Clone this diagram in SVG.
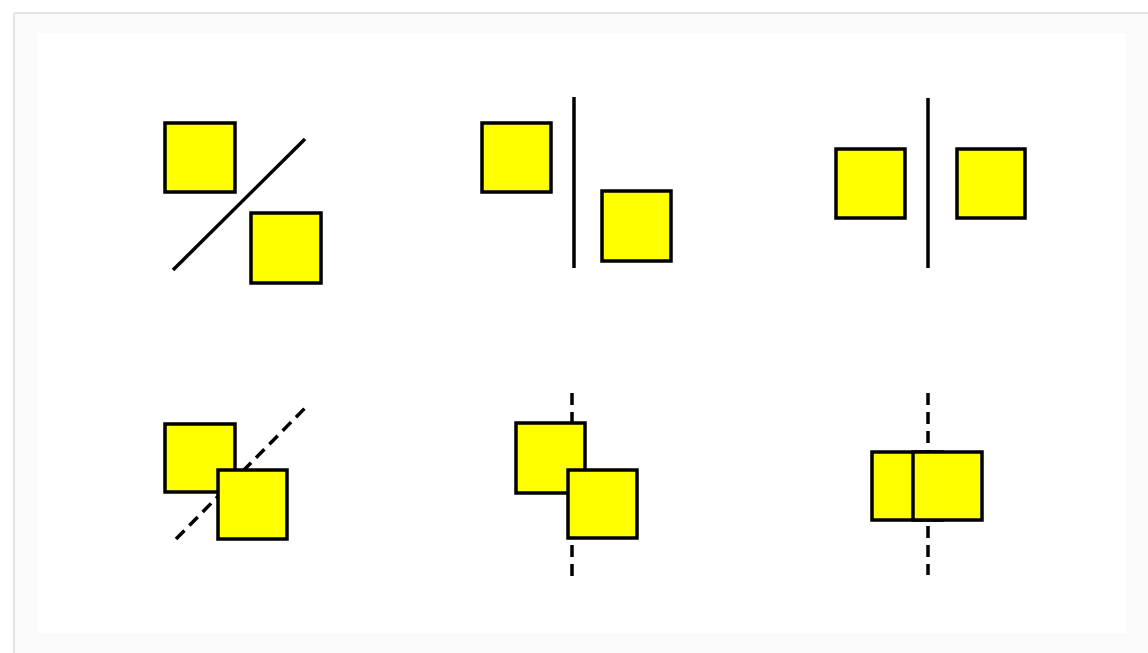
<svg xmlns="http://www.w3.org/2000/svg" width="1148" height="653" viewBox="0 0 1148 653">
<style>
.sq{fill:#ffff00;stroke:#000;stroke-width:3.5}
.ln{stroke:#000;stroke-width:3.5;fill:none}
.dash{stroke-dasharray:12 7}
</style>
<rect x="0" y="0" width="1148" height="653" fill="#ffffff"/>
<rect x="14" y="13" width="1134" height="640" fill="#fafafa"/>
<line x1="14" y1="13" x2="1148" y2="13" stroke="#e4e4e4" stroke-width="2"/>
<line x1="14" y1="13" x2="14" y2="653" stroke="#e4e4e4" stroke-width="2"/>
<rect x="38" y="33" width="1088" height="600" fill="#ffffff"/>
<g id="connectors">
<line class="ln" x1="173" y1="270" x2="305" y2="139"/>
<line class="ln" x1="574" y1="97" x2="574" y2="268"/>
<line class="ln" x1="928" y1="98" x2="928" y2="268"/>
<line class="ln dash" x1="176" y1="539" x2="305" y2="408"/>
<line class="ln dash" x1="572" y1="393" x2="572" y2="577"/>
<line class="ln dash" x1="928" y1="393" x2="928" y2="575"/>
</g>
<g id="p1a"><rect class="sq" x="165" y="123" width="70" height="69"/></g>
<g id="p1b"><rect class="sq" x="251" y="213" width="70" height="70"/></g>
<g id="p2a"><rect class="sq" x="482" y="123" width="69" height="69"/></g>
<g id="p2b"><rect class="sq" x="602" y="191" width="69" height="70"/></g>
<g id="p3a"><rect class="sq" x="836" y="149" width="69" height="69"/></g>
<g id="p3b"><rect class="sq" x="957" y="149" width="68" height="69"/></g>
<g id="p4a"><rect class="sq" x="165" y="424" width="70" height="68"/></g>
<g id="p4b"><rect class="sq" x="218" y="470" width="69" height="69"/></g>
<g id="p5a"><rect class="sq" x="516" y="423" width="69" height="70"/></g>
<g id="p5b"><rect class="sq" x="568" y="470" width="69" height="68"/></g>
<g id="p6a"><rect class="sq" x="872" y="452" width="70" height="68"/></g>
<g id="p6b"><rect class="sq" x="913" y="452" width="69" height="68"/></g>
</svg>
